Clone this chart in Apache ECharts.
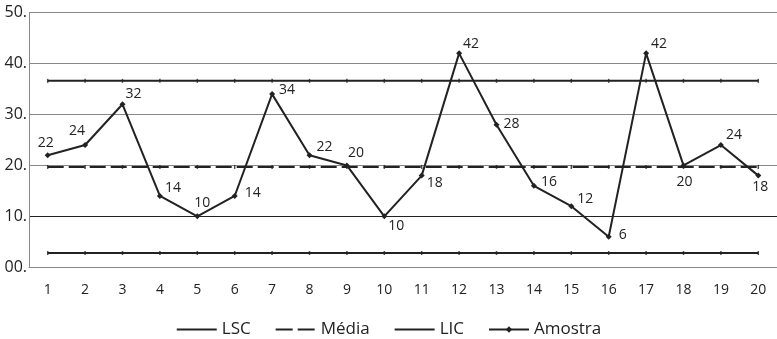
<!DOCTYPE html>
<html>
<head>
<meta charset="utf-8">
<script src="https://cdn.jsdelivr.net/npm/echarts@6/dist/echarts.min.js"></script>
<style>html,body{margin:0;padding:0;background:#fff}#c{width:777px;height:339px}</style>
</head>
<body>
<div id="c"></div>
<script>
const categories = ['1','2','3','4','5','6','7','8','9','10','11','12','13','14','15','16','17','18','19','20'];
const amostra = [22,24,32,14,10,14,34,22,20,10,18,42,28,16,12,6,42,20,24,18];
const lscValue = 36.6;
const mediaValue = 19.7;
const licValue = 2.8;
const yTicks = [0,10,20,30,40,50];
const labelOffsets = [[-2,-12],[-8,-14],[11,-10],[13,-8],[5,-13],[18,-3],[15,-4],[15,-8],[9,-12],[12,10],[13,7],[12,-9],[15,-1],[15,-4],[14,-7],[14,-2],[13,-9],[1,17],[13,-10],[2,11]];

const FONT = 'Open Sans';
const lsc = categories.map(() => lscValue);
const media = categories.map(() => mediaValue);
const lic = categories.map(() => licValue);
const hideSym = {color: 'transparent', borderWidth: 0, opacity: 0};

const chart = echarts.init(document.getElementById('c'), null, {renderer: 'canvas'});
chart.setOption({
  animation: false,
  textStyle: {fontFamily: FONT},
  grid: {left: 29, right: -3, top: 12.6, bottom: 71.7, containLabel: false},
  legend: {
    data: [
      {name: 'LSC', itemStyle: hideSym},
      {name: 'Média', itemStyle: hideSym, lineStyle: {type: [17,5], width: 2}},
      {name: 'LIC', itemStyle: hideSym},
      {name: 'Amostra'}
    ],
    bottom: -4, left: 'center',
    itemWidth: 40, itemHeight: 8, itemGap: 24,
    textStyle: {fontFamily: FONT, fontSize: 17, color: '#222'}
  },
  xAxis: {
    type: 'category', data: categories, boundaryGap: true,
    axisLine: {lineStyle: {color: '#888', width: 1}},
    axisTick: {show: false},
    axisLabel: {color: '#222', fontSize: 14, margin: 16, fontFamily: FONT}
  },
  yAxis: {
    type: 'value', min: yTicks[0], max: yTicks[yTicks.length-1], interval: 10,
    axisLine: {show: true, lineStyle: {color: '#888', width: 1}},
    axisTick: {show: false},
    axisLabel: {color: '#222', fontSize: 16, margin: 2, fontFamily: FONT,
      formatter: v => String(v).padStart(2,'0') + '.'},
    splitLine: {show: true, lineStyle: {color: ['#888','#222','#888','#888','#888','#888'], width: 1}}
  },
  series: [
    {name: 'LSC', type: 'line', data: lsc, symbol: 'none', z: 3,
      lineStyle: {color: '#222', width: 2}, itemStyle: {color: '#222'}},
    {name: 'Média', type: 'line', data: media, symbol: 'none', z: 3,
      lineStyle: {color: '#222', width: 2, type: [16,5]}, itemStyle: {color: '#222'}},
    {name: 'LIC', type: 'line', data: lic, symbol: 'none', z: 3,
      lineStyle: {color: '#222', width: 2}, itemStyle: {color: '#222'}},
    {name: 'ticksL', type: 'scatter', data: lsc, symbol: 'rect', symbolSize: [1.5,4], z: 4,
      itemStyle: {color: '#222'}, silent: true},
    {name: 'ticksM', type: 'scatter', data: media, symbol: 'rect', symbolSize: [1.5,4], z: 4,
      itemStyle: {color: '#222'}, silent: true},
    {name: 'ticksI', type: 'scatter', data: lic, symbol: 'rect', symbolSize: [1.5,4], z: 4,
      itemStyle: {color: '#222'}, silent: true},
    {name: 'Amostra', type: 'line', z: 5,
      data: amostra.map((v,i) => ({value: v, label: {offset: labelOffsets[i]}})),
      symbol: 'diamond', symbolSize: 6, showAllSymbol: true,
      lineStyle: {color: '#222', width: 2}, itemStyle: {color: '#222'},
      label: {show: true, position: 'inside', align: 'center', verticalAlign: 'middle',
        color: '#222', fontSize: 14, fontFamily: FONT}}
  ]
});
</script>
</body>
</html>
